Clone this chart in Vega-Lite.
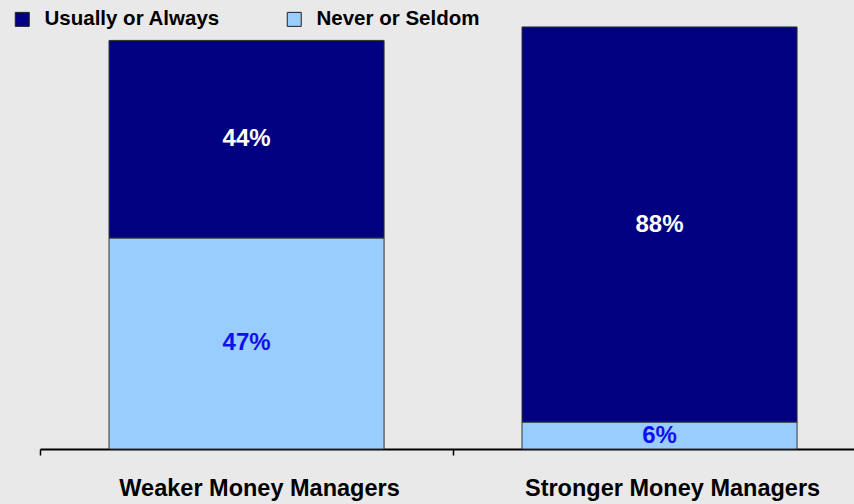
{
  "$schema": "https://vega.github.io/schema/vega-lite/v6.json",
  "width": 814,
  "height": 449,
  "autosize": {"type": "none"},
  "padding": {"left": 40, "top": 0, "right": 0, "bottom": 55},
  "background": "#e9e9e9",
  "config": {"view": {"stroke": null}},
  "data": {"values": [
    {"group": "Weaker Money Managers", "cat": "Never or Seldom", "order": 1, "value": 47, "label": "47%"},
    {"group": "Weaker Money Managers", "cat": "Usually or Always", "order": 2, "value": 44, "label": "44%"},
    {"group": "Stronger Money Managers", "cat": "Never or Seldom", "order": 1, "value": 6, "label": "6%"},
    {"group": "Stronger Money Managers", "cat": "Usually or Always", "order": 2, "value": 88, "label": "88%"}
  ]},
  "transform": [
    {"stack": "value", "groupby": ["group"], "sort": [{"field": "order", "order": "ascending"}], "as": ["v0", "v1"]}
  ],
  "encoding": {
    "x": {
      "field": "group", "type": "nominal", "sort": ["Weaker Money Managers", "Stronger Money Managers"],
      "scale": {"paddingInner": 0.334, "paddingOuter": 0.1525, "align": 0.548},
      "axis": {
        "title": null, "labelAngle": 0, "labelFont": "Liberation Sans", "labelFontWeight": "bold",
        "labelFontSize": 23.5, "labelColor": "#000000", "labelPadding": 33, "labelOffset": 13, "labelLimit": 0,
        "domainColor": "#000000", "domainWidth": 2, "tickColor": "#000000", "tickWidth": 1.5,
        "tickSize": 6, "bandPosition": -0.2509, "labelBaseline": "middle"
      }
    }
  },
  "layer": [
    {
      "mark": {"type": "bar", "stroke": "#333333", "strokeWidth": 1},
      "encoding": {
        "y": {"field": "v0", "type": "quantitative", "scale": {"domain": [0, 100], "nice": false, "zero": true}, "axis": null},
        "y2": {"field": "v1"},
        "color": {
          "field": "cat", "type": "nominal",
          "scale": {"domain": ["Usually or Always", "Never or Seldom"], "range": ["#000080", "#99ccff"]},
          "legend": {
            "title": null, "orient": "none", "direction": "horizontal", "legendX": -28, "legendY": 9,
            "symbolType": "square", "symbolSize": 196, "symbolStrokeColor": "#222222", "symbolStrokeWidth": 1,
            "labelFont": "Liberation Sans", "labelFontWeight": "bold", "labelFontSize": 20.5, "labelColor": "#000000",
            "labelOffset": 12, "labelLimit": 0, "columnPadding": 64
          }
        }
      }
    },
    {
      "transform": [{"fold": ["v0", "v1"], "as": ["edge", "pos"]}],
      "mark": {"type": "text", "font": "Liberation Sans", "fontWeight": "bold", "fontSize": 24, "align": "center", "baseline": "middle"},
      "encoding": {
        "y": {"aggregate": "mean", "field": "pos", "type": "quantitative", "scale": {"domain": [0, 100], "nice": false, "zero": true}, "axis": null},
        "detail": {"field": "cat"},
        "text": {"field": "label"},
        "color": {"condition": {"test": "datum.cat === 'Never or Seldom'", "value": "#1010ee"}, "value": "#ffffff"}
      }
    }
  ]
}
